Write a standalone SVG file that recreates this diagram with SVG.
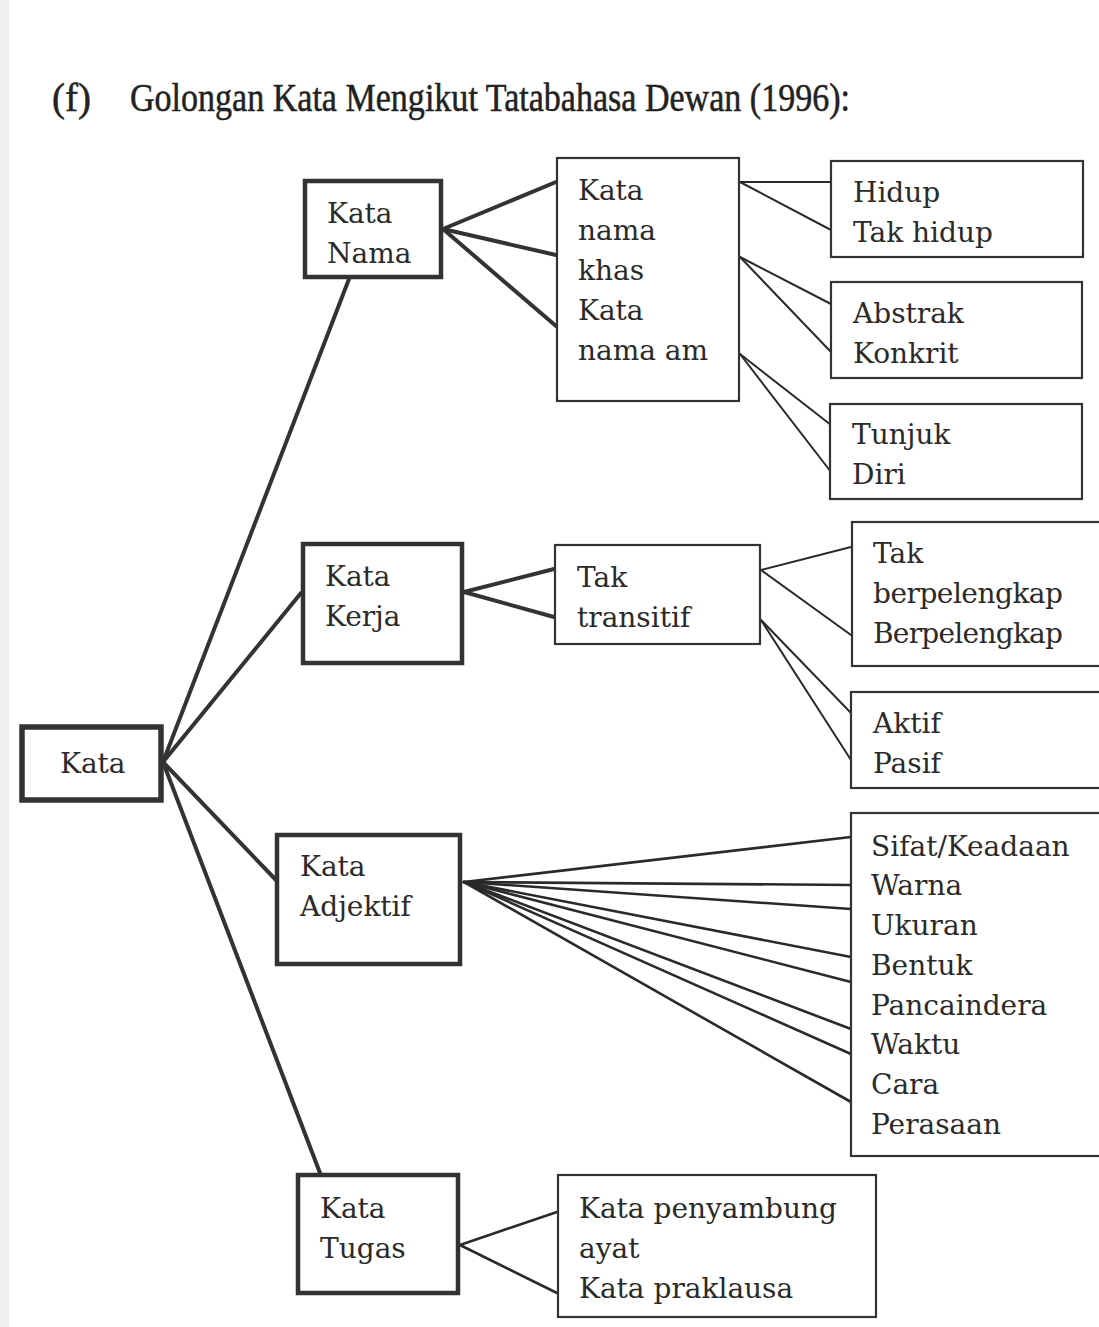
<svg xmlns="http://www.w3.org/2000/svg" width="1099" height="1327" viewBox="0 0 1099 1327">
<style>
  .t { font-family: "DejaVu Serif", "Liberation Serif", serif; font-size: 28px; fill: #2a2a2a; }
  .title { font-family: "Liberation Serif", "DejaVu Serif", serif; font-size: 39px; fill: #222; stroke: #222; stroke-width: 0.5; }
  .thick { fill: #fff; stroke: #333; stroke-width: 4.5; }
  .thin { fill: #fff; stroke: #333; stroke-width: 2.2; }
  .cw { stroke: #333; stroke-width: 4; stroke-linecap: round; fill: none; }
  .cm { stroke: #2a2a2a; stroke-width: 2.6; stroke-linecap: round; fill: none; }
  .cn { stroke: #2a2a2a; stroke-width: 2; stroke-linecap: round; fill: none; }
</style>
<rect x="0" y="0" width="1099" height="1327" fill="#ffffff"/>
<rect x="0" y="0" width="9" height="1327" fill="#efefef"/>

<g id="title">
  <text class="title" x="52" y="111">(f)</text>
  <text class="title" x="130" y="111" textLength="720" lengthAdjust="spacingAndGlyphs">Golongan Kata Mengikut Tatabahasa Dewan (1996):</text>
</g>

<g id="connectors">
  <line class="cw" x1="163" y1="762" x2="349" y2="279"/>
  <line class="cw" x1="163" y1="762" x2="301" y2="593"/>
  <line class="cw" x1="163" y1="762" x2="276" y2="880"/>
  <line class="cw" x1="163" y1="762" x2="320" y2="1173"/>

  <line class="cw" x1="443" y1="229" x2="556" y2="182"/>
  <line class="cw" x1="443" y1="229" x2="556" y2="255"/>
  <line class="cw" x1="443" y1="229" x2="556" y2="326"/>

  <line class="cn" x1="740" y1="182" x2="831" y2="182"/>
  <line class="cn" x1="740" y1="182" x2="831" y2="230"/>
  <line class="cn" x1="740" y1="257" x2="831" y2="304"/>
  <line class="cn" x1="740" y1="257" x2="831" y2="352"/>
  <line class="cn" x1="740" y1="354" x2="831" y2="425"/>
  <line class="cn" x1="740" y1="354" x2="831" y2="472"/>

  <line class="cw" x1="464" y1="592" x2="554" y2="569"/>
  <line class="cw" x1="464" y1="592" x2="554" y2="617"/>

  <line class="cn" x1="761" y1="570" x2="851" y2="547"/>
  <line class="cn" x1="761" y1="570" x2="851" y2="635"/>
  <line class="cn" x1="761" y1="620" x2="851" y2="713"/>
  <line class="cn" x1="761" y1="620" x2="851" y2="760"/>

  <line class="cm" x1="464" y1="882" x2="851" y2="837"/>
  <line class="cm" x1="464" y1="882" x2="851" y2="885"/>
  <line class="cm" x1="464" y1="882" x2="851" y2="909"/>
  <line class="cm" x1="464" y1="882" x2="851" y2="957"/>
  <line class="cm" x1="464" y1="882" x2="851" y2="982"/>
  <line class="cm" x1="464" y1="882" x2="851" y2="1029"/>
  <line class="cm" x1="464" y1="882" x2="851" y2="1054"/>
  <line class="cm" x1="464" y1="882" x2="851" y2="1102"/>

  <line class="cm" x1="460" y1="1245" x2="557" y2="1212"/>
  <line class="cm" x1="460" y1="1245" x2="557" y2="1293"/>
</g>

<g id="kata">
  <rect x="22" y="727" width="139" height="73" fill="#fff" stroke="#333" stroke-width="5.5"/>
  <text class="t" x="60" y="773">Kata</text>
</g>

<g id="kata-nama">
  <rect class="thick" x="305" y="181" width="136" height="96"/>
  <text class="t" x="327" y="223">Kata</text>
  <text class="t" x="327" y="263">Nama</text>
</g>

<g id="kata-nama-khas">
  <rect class="thin" x="557" y="158" width="182" height="243"/>
  <text class="t" x="578" y="200">Kata</text>
  <text class="t" x="578" y="240">nama</text>
  <text class="t" x="578" y="280">khas</text>
  <text class="t" x="578" y="320">Kata</text>
  <text class="t" x="578" y="360">nama am</text>
</g>

<g id="hidup">
  <rect class="thin" x="831" y="161" width="252" height="96"/>
  <text class="t" x="853" y="202">Hidup</text>
  <text class="t" x="853" y="242">Tak hidup</text>
</g>

<g id="abstrak">
  <rect class="thin" x="831" y="282" width="251" height="96"/>
  <text class="t" x="853" y="323">Abstrak</text>
  <text class="t" x="853" y="363">Konkrit</text>
</g>

<g id="tunjuk">
  <rect class="thin" x="830" y="404" width="252" height="95"/>
  <text class="t" x="852" y="444">Tunjuk</text>
  <text class="t" x="852" y="484">Diri</text>
</g>

<g id="kata-kerja">
  <rect class="thick" x="303" y="544" width="159" height="119"/>
  <text class="t" x="325" y="586">Kata</text>
  <text class="t" x="325" y="626">Kerja</text>
</g>

<g id="tak-transitif">
  <rect class="thin" x="555" y="545" width="205" height="99"/>
  <text class="t" x="577" y="587">Tak</text>
  <text class="t" x="577" y="627">transitif</text>
</g>

<g id="berpelengkap">
  <rect class="thin" x="852" y="522" width="260" height="144"/>
  <text class="t" x="873" y="563">Tak</text>
  <text class="t" x="873" y="603" textLength="190">berpelengkap</text>
  <text class="t" x="873" y="643" textLength="190">Berpelengkap</text>
</g>

<g id="aktif">
  <rect class="thin" x="851" y="692" width="260" height="96"/>
  <text class="t" x="873" y="733">Aktif</text>
  <text class="t" x="873" y="773">Pasif</text>
</g>

<g id="kata-adjektif">
  <rect class="thick" x="277" y="835" width="183" height="129"/>
  <text class="t" x="300" y="876">Kata</text>
  <text class="t" x="300" y="916">Adjektif</text>
</g>

<g id="sifat">
  <rect class="thin" x="851" y="813" width="260" height="343"/>
  <text class="t" x="871" y="856">Sifat/Keadaan</text>
  <text class="t" x="871" y="895">Warna</text>
  <text class="t" x="871" y="935">Ukuran</text>
  <text class="t" x="871" y="975">Bentuk</text>
  <text class="t" x="871" y="1015">Pancaindera</text>
  <text class="t" x="871" y="1054">Waktu</text>
  <text class="t" x="871" y="1094">Cara</text>
  <text class="t" x="871" y="1134">Perasaan</text>
</g>

<g id="kata-tugas">
  <rect class="thick" x="298" y="1175" width="160" height="118"/>
  <text class="t" x="320" y="1218">Kata</text>
  <text class="t" x="320" y="1258">Tugas</text>
</g>

<g id="penyambung">
  <rect class="thin" x="558" y="1175" width="318" height="142"/>
  <text class="t" x="579" y="1218">Kata penyambung</text>
  <text class="t" x="579" y="1258">ayat</text>
  <text class="t" x="579" y="1298">Kata praklausa</text>
</g>
</svg>
